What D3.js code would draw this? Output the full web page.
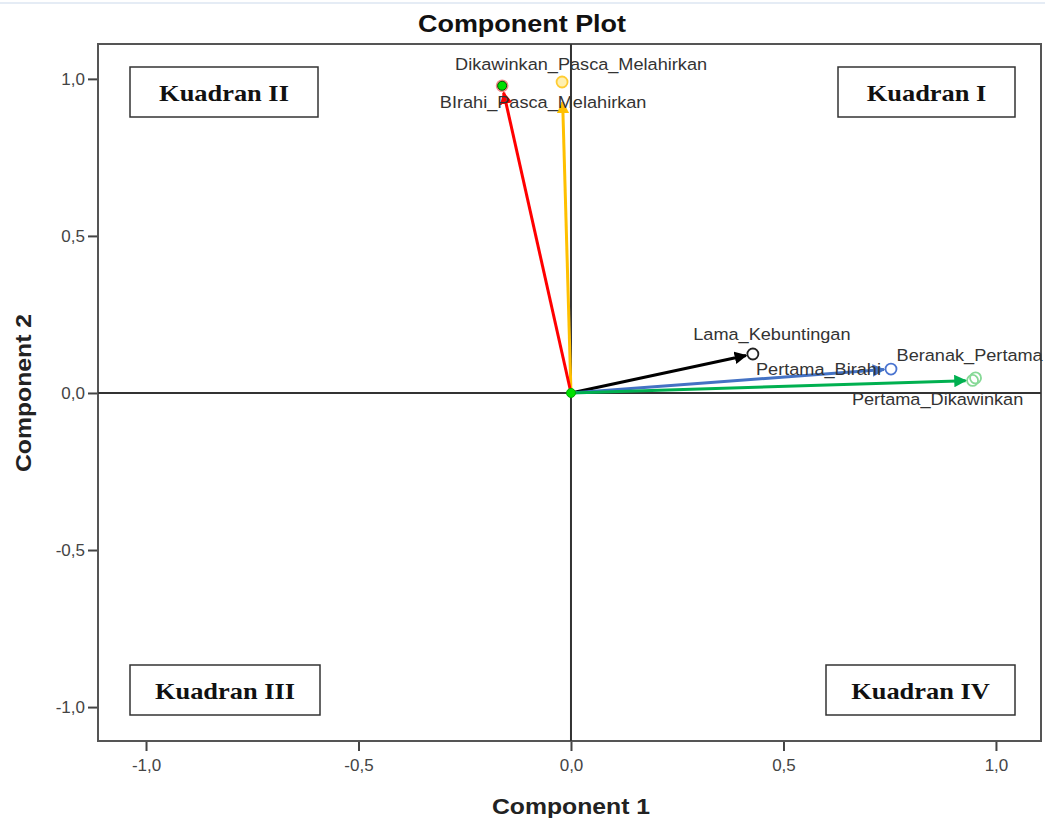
<!DOCTYPE html>
<html>
<head>
<meta charset="utf-8">
<script src="https://cdn.jsdelivr.net/npm/d3@7"></script>
<style>
  body { margin: 0; background: #fff; }
  svg { display: block; font-family: "Liberation Sans", Arial, sans-serif; }
</style>
</head>
<body>
<svg id="chart" width="1045" height="818"></svg>
<script>
// variabel dan loading komponen
const variables = ['Dikawinkan_Pasca_Melahirkan', 'BIrahi_Pasca_Melahirkan', 'Lama_Kebuntingan',
  'Pertama_Birahi', 'Beranak_Pertama', 'Pertama_Dikawinkan'];
const comp1 = [-0.021, -0.162, 0.428, 0.753, 0.952, 0.945];
const comp2 = [0.990, 0.978, 0.124, 0.076, 0.048, 0.040];
const arrowColors = ['#ffc000', '#ff0000', '#000000', '#4472c4', null, '#00b050'];
const pointColors = ['#ffcc33', '#f28b8b', '#222222', '#4a74d0', '#86d996', '#86d996'];
const ticks = [-1.0, -0.5, 0.0, 0.5, 1.0];
const quadrants = ['Kuadran I', 'Kuadran II', 'Kuadran III', 'Kuadran IV'];

const svg = d3.select('#chart');
const plotL = 98, plotR = 1041, plotT = 44, plotB = 741;
const SX = 1.1; // teks pada gambar asli agak melebar

const x = d3.scaleLinear().domain([-1.113, 1.106]).range([plotL, plotR]);
const y = d3.scaleLinear().domain([-1.108, 1.111]).range([plotB, plotT]);

const fmt = d3.formatLocale({ decimal: ',', thousands: '.', grouping: [3], currency: ['', ''], minus: '-' }).format('.1f');

// teks dengan regangan horizontal
function addText(px, py, str, size, opt = {}) {
  return svg.append('text')
    .attr('transform', `translate(${px},${py})${opt.rotate ? ' rotate(' + opt.rotate + ')' : ''} scale(${SX},1)`)
    .attr('text-anchor', opt.anchor || 'middle')
    .attr('font-size', size)
    .attr('font-weight', opt.bold ? 'bold' : null)
    .attr('font-family', opt.family || null)
    .attr('fill', opt.fill || '#333')
    .text(str);
}

// garis tipis di atas
svg.append('line').attr('x1', 0).attr('x2', 1045).attr('y1', 3).attr('y2', 3)
  .attr('stroke', '#dde6f2').attr('stroke-width', 1.5);

addText(522, 32, 'Component Plot', 24.5, { bold: true, fill: '#111' });

// sumbu
const xAxis = d3.axisBottom(x).tickValues(ticks).tickFormat(fmt).tickSizeOuter(0).tickSize(10).tickPadding(8);
const yAxis = d3.axisLeft(y).tickValues(ticks).tickFormat(fmt).tickSizeOuter(0).tickSize(10).tickPadding(3);

const gx = svg.append('g').attr('transform', `translate(0,${plotB})`).call(xAxis);
const gy = svg.append('g').attr('transform', `translate(${plotL},0)`).call(yAxis);
[gx, gy].forEach(g => {
  g.select('.domain').remove();
  g.selectAll('line').attr('stroke', '#444').attr('stroke-width', 2);
  g.selectAll('text').attr('font-size', 17).attr('fill', '#444')
    .attr('font-family', '"Liberation Sans", Arial, sans-serif');
});

// bingkai
svg.append('rect').attr('x', plotL).attr('y', plotT).attr('width', plotR - plotL).attr('height', plotB - plotT)
  .attr('fill', 'none').attr('stroke', '#555').attr('stroke-width', 2);

// garis nol
svg.append('line').attr('x1', x(0)).attr('x2', x(0)).attr('y1', plotT).attr('y2', plotB)
  .attr('stroke', '#333').attr('stroke-width', 2);
svg.append('line').attr('x1', plotL).attr('x2', plotR).attr('y1', y(0)).attr('y2', y(0))
  .attr('stroke', '#333').attr('stroke-width', 2);

addText(x(0), 814, 'Component 1', 22.5, { bold: true, fill: '#222' });
addText(31, y(0), 'Component 2', 22.5, { bold: true, fill: '#222', rotate: -90 });

// kotak kuadran
const qbox = [
  { name: quadrants[0], x: 838, y: 67, w: 177 },
  { name: quadrants[1], x: 130, y: 67, w: 188 },
  { name: quadrants[2], x: 130, y: 665, w: 190 },
  { name: quadrants[3], x: 826, y: 665, w: 189 }
];
qbox.forEach(q => {
  svg.append('rect').attr('x', q.x).attr('y', q.y).attr('width', q.w).attr('height', 50)
    .attr('fill', '#fff').attr('stroke', '#333').attr('stroke-width', 1.5);
  addText(q.x + q.w / 2, q.y + 34, q.name, 24, {
    bold: true, fill: '#111', family: '"Liberation Serif", "Times New Roman", serif'
  });
});

// data
const data = variables.map((v, i) => ({ name: v, c1: comp1[i], c2: comp2[i], arrow: arrowColors[i], point: pointColors[i] }));

// titik
svg.selectAll('.pt').data(data).enter().append('circle')
  .attr('cx', d => x(d.c1)).attr('cy', d => y(d.c2)).attr('r', 5.5)
  .attr('fill', (d, i) => i === 1 ? '#f7a8a8' : (i === 0 ? '#fff0b0' : 'none'))
  .attr('stroke', d => d.point).attr('stroke-width', 1.8);

// panah
const defs = svg.append('defs');
data.filter(d => d.arrow).forEach((d, i) => {
  defs.append('marker').attr('id', 'ah' + i).attr('viewBox', '0 0 10 10')
    .attr('refX', 9).attr('refY', 5).attr('markerWidth', 4.2).attr('markerHeight', 4.2)
    .attr('markerUnits', 'strokeWidth').attr('orient', 'auto')
    .append('path').attr('d', 'M0,0 L10,5 L0,10 Z').attr('fill', d.arrow);
  d.mid = 'ah' + i;
});
const arrows = data.filter(d => d.arrow);
const shorten = d => d.name === 'Dikawinkan_Pasca_Melahirkan' ? 20 : 7;
svg.selectAll('.arr').data(arrows).enter().append('line')
  .attr('x1', x(0)).attr('y1', y(0))
  .attr('x2', d => {
    const dx = x(d.c1) - x(0), dy = y(d.c2) - y(0), L = Math.hypot(dx, dy);
    return x(0) + dx * (L - shorten(d)) / L;
  })
  .attr('y2', d => {
    const dx = x(d.c1) - x(0), dy = y(d.c2) - y(0), L = Math.hypot(dx, dy);
    return y(0) + dy * (L - shorten(d)) / L;
  })
  .attr('stroke', d => d.arrow).attr('stroke-width', 3)
  .attr('marker-end', d => `url(#${d.mid})`);

// titik hijau
svg.append('circle').attr('cx', x(0)).attr('cy', y(0)).attr('r', 4.5).attr('fill', '#00e000').attr('stroke', '#0a0').attr('stroke-width', 1);
svg.append('circle').attr('cx', x(comp1[1])).attr('cy', y(comp2[1])).attr('r', 4.5).attr('fill', '#00e000').attr('stroke', '#050').attr('stroke-width', 1);

// label
const labelPos = [
  { dx: 19, dy: -12, anchor: 'middle' },
  { dx: 41, dy: 22, anchor: 'middle' },
  { dx: 19, dy: -14, anchor: 'middle' },
  { dx: -10, dy: 6, anchor: 'end' },
  { dx: -79, dy: -17, anchor: 'start' },
  { dx: -35, dy: 25, anchor: 'middle' }
];
data.forEach((d, i) => {
  addText(x(d.c1) + labelPos[i].dx, y(d.c2) + labelPos[i].dy, d.name, 16.5, { anchor: labelPos[i].anchor });
});
</script>
</body>
</html>
